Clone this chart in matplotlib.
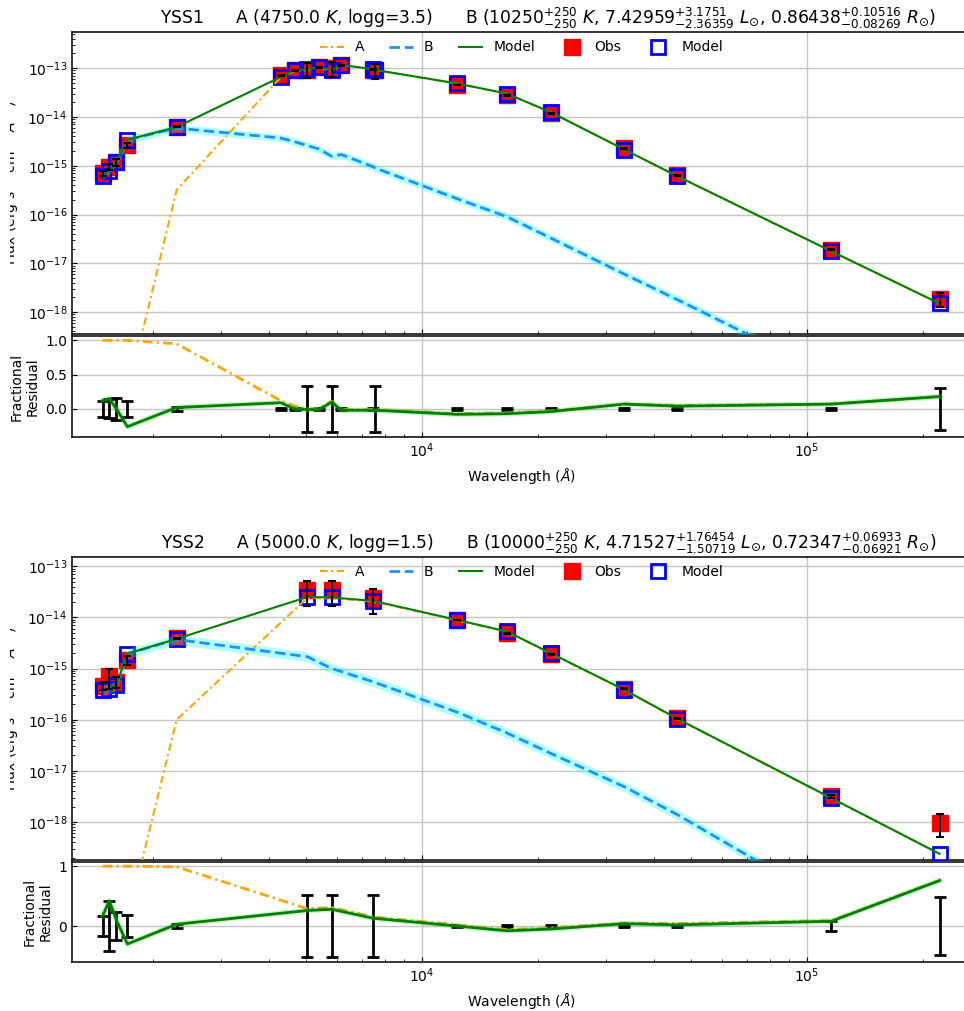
import numpy as np
import matplotlib
matplotlib.use('Agg')
import matplotlib.pyplot as plt
from matplotlib.patches import Rectangle

plt.rcParams['lines.scale_dashes'] = False
plt.rcParams['axes.linewidth'] = 1.1

# ---------------- YSS1 ----------------
# filter wavelengths (Angstrom)
wl_1 = [1481, 1541, 1608, 1717, 2305, 4297, 4670, 5036, 5394, 5836, 6166,
        7470, 7560, 12350, 16620, 21590, 33526, 46028, 115608, 220883]
# observed flux and fractional error
obs_1 = [7.1e-16, 9.3e-16, 1.2e-15, 2.6e-15, 6.3e-15, 7.2e-14, 9.1e-14, 9.3e-14,
         1.05e-13, 1.0e-13, 1.15e-13, 9.3e-14, 9.0e-14, 4.5e-14, 2.8e-14,
         1.2e-14, 2.3e-15, 6.4e-16, 1.9e-17, 1.85e-18]
ferr_1 = [0.12, 0.14, 0.16, 0.12, 0.025, 0.02, 0.02, 0.34, 0.02, 0.34, 0.02,
          0.02, 0.34, 0.02, 0.02, 0.02, 0.02, 0.02, 0.02, 0.31]
# model fluxes (total, component A, component B with its band)
model_1 = [6.25e-16, 7.9e-16, 1.2e-15, 3.4e-15, 6.2e-15, 6.6e-14, 9.1e-14, 9.4e-14,
           1.06e-13, 9.0e-14, 1.17e-13, 9.5e-14, 9.2e-14, 4.85e-14, 3.0e-14,
           1.25e-14, 2.15e-15, 6.1e-16, 1.77e-17, 1.5e-18]
a_1 = [1e-24, 1e-23, 1e-22, 2e-20, 3.2e-16, 6.5e-14, 8.7e-14, 9.2e-14, 1.04e-13,
       8.8e-14, 1.15e-13, 9.4e-14, 9.1e-14, 4.8e-14, 3.0e-14, 1.25e-14, 2.15e-15,
       6.1e-16, 1.77e-17, 1.5e-18]
b_1 = [6.2e-16, 7.9e-16, 1.2e-15, 3.4e-15, 5.9e-15, 3.7e-15, 3.1e-15, 2.6e-15,
       2.2e-15, 1.55e-15, 1.7e-15, 9.5e-16, 9.0e-16, 2.1e-16, 9.0e-17, 3.3e-17,
       6.0e-18, 1.8e-18, 5.0e-20, 2.0e-21]
b_lo_1 = [5.2e-16, 6.6e-16, 1.0e-15, 2.8e-15, 4.9e-15, 3.1e-15, 2.6e-15, 2.2e-15,
          1.8e-15, 1.3e-15, 1.4e-15, 7.9e-16, 7.5e-16, 1.75e-16, 7.5e-17, 2.75e-17,
          5.0e-18, 1.5e-18, 4.2e-20, 1.7e-21]
b_hi_1 = [7.4e-16, 9.5e-16, 1.45e-15, 4.1e-15, 7.1e-15, 4.4e-15, 3.7e-15, 3.1e-15,
          2.6e-15, 1.85e-15, 2.0e-15, 1.15e-15, 1.1e-15, 2.5e-16, 1.1e-16, 4.0e-17,
          7.2e-18, 2.2e-18, 6.0e-20, 2.4e-21]
# fractional residuals of the total model and of component A
res_1 = [0.12, 0.15, 0.0, -0.26, 0.02, 0.09, 0.0, -0.01, -0.01, 0.10, -0.02,
         -0.02, -0.02, -0.08, -0.07, -0.04, 0.07, 0.04, 0.07, 0.18]
res_a_1 = [1.0, 1.0, 1.0, 1.0, 0.95, 0.12, 0.04, 0.0, 0.0, 0.11, -0.01,
           -0.01, -0.01, -0.07, -0.06, -0.03, 0.07, 0.05, 0.07, 0.18]
title_1 = (r"YSS1      A (4750.0 $K$, logg=3.5)      "
           r"B (10250$^{+250}_{-250}$ $K$, 7.42959$^{+3.1751}_{-2.36359}$ $L_{\odot}$, "
           r"0.86438$^{+0.10516}_{-0.08269}$ $R_{\odot}$)")

# ---------------- YSS2 ----------------
wl_2 = [1481, 1541, 1608, 1717, 2305, 5036, 5836, 7470, 12350, 16620, 21590,
        33526, 46028, 115608, 220883]
obs_2 = [4.6e-16, 7.0e-16, 5.5e-16, 1.45e-15, 3.9e-15, 3.4e-14, 3.4e-14, 2.4e-14,
         8.9e-15, 4.9e-15, 1.9e-15, 4.0e-16, 1.07e-16, 3.2e-18, 9.8e-19]
ferr_2 = [0.17, 0.42, 0.23, 0.19, 0.03, 0.52, 0.52, 0.52, 0.02, 0.02, 0.02,
          0.02, 0.02, 0.08, 0.48]
model_2 = [3.8e-16, 4.0e-16, 4.8e-16, 1.95e-15, 3.8e-15, 2.5e-14, 2.45e-14, 2.1e-14,
           8.9e-15, 5.3e-15, 2.0e-15, 3.85e-16, 1.05e-16, 2.95e-18, 2.4e-19]
a_2 = [1e-24, 1e-23, 1e-22, 1.2e-20, 1.0e-16, 2.4e-14, 2.35e-14, 2.04e-14,
       8.7e-15, 5.2e-15, 1.96e-15, 3.8e-16, 1.03e-16, 2.9e-18, 2.4e-19]
b_2 = [3.8e-16, 4.0e-16, 4.8e-16, 1.95e-15, 3.7e-15, 1.7e-15, 1.0e-15, 5.5e-16,
       1.4e-16, 5.5e-17, 2.2e-17, 4.9e-18, 1.4e-18, 2.5e-20, 1.5e-21]
b_lo_2 = [3.0e-16, 3.2e-16, 3.8e-16, 1.56e-15, 2.96e-15, 1.36e-15, 8.0e-16, 4.4e-16,
          1.12e-16, 4.4e-17, 1.76e-17, 3.9e-18, 1.12e-18, 2.0e-20, 1.2e-21]
b_hi_2 = [4.75e-16, 5.0e-16, 6.0e-16, 2.44e-15, 4.6e-15, 2.1e-15, 1.25e-15, 6.9e-16,
          1.75e-16, 6.9e-17, 2.75e-17, 6.1e-18, 1.75e-18, 3.1e-20, 1.9e-21]
res_2 = [0.17, 0.42, 0.1, -0.3, 0.03, 0.26, 0.28, 0.13, 0.0, -0.08, -0.05,
         0.04, 0.02, 0.08, 0.76]
res_a_2 = [1.0, 1.0, 1.0, 1.0, 0.99, 0.29, 0.31, 0.15, 0.02, -0.06, -0.03,
           0.05, 0.04, 0.09, 0.76]
title_2 = (r"YSS2      A (5000.0 $K$, logg=1.5)      "
           r"B (10000$^{+250}_{-250}$ $K$, 4.71527$^{+1.76454}_{-1.50719}$ $L_{\odot}$, "
           r"0.72347$^{+0.06933}_{-0.06921}$ $R_{\odot}$)")


def plot_sed(ax, axr, wl, obs, ferr, model, fa, fb, b_lo, b_hi, res, res_a,
             title, ylim, rylim, rticks):
    '''
    Draws the SED panel and the fractional residual panel below it.
    '''
    wl = np.array(wl)
    obs = np.array(obs)
    ferr = np.array(ferr)
    err = obs * ferr

    # observed and model photometry
    ax.plot(wl, obs, 's', color='red', ms=11, label='Obs', zorder=3)
    ax.plot(wl, model, 's', mfc='none', mec='blue', mew=2, ms=10,
            label='Model', zorder=4)

    # components and total model
    ax.fill_between(wl, b_lo, b_hi, color='cyan', alpha=0.3, lw=0, zorder=5)
    ax.plot(wl, fa, color='orange', lw=1.5, dashes=(5.5, 2.5, 1.5, 2.5),
            label='A', zorder=6)
    ax.plot(wl, fb, color='dodgerblue', lw=2, dashes=(7.5, 3.5),
            label='B', zorder=6)
    ax.plot(wl, model, color='green', lw=1.5, label='Model', zorder=6)
    ax.errorbar(wl, obs, yerr=err, fmt='none', ecolor='black', elinewidth=1.5,
                capsize=3, capthick=1.5, zorder=7)

    ax.set_xscale('log')
    ax.set_yscale('log')
    ax.set_xlim(1233, 266700)
    ax.set_ylim(ylim)
    ax.set_ylabel(r'Flux (erg s$^{-1}$ cm$^{-2}$ $\AA^{-1}$)')
    ax.grid(True, which='major', color='#c4c4c4', lw=1)
    ax.tick_params(which='both', direction='in', labelbottom=False)
    ax.set_title(title, fontsize=12.3, x=0.53)

    h, l = ax.get_legend_handles_labels()
    order = [l.index('A'), l.index('B'), 4, 0, 1]
    ax.legend([h[i] for i in order], [l[i] for i in order], loc='upper center',
              ncol=5, frameon=False, fontsize=10, borderaxespad=0.2,
              handlelength=1.7, columnspacing=1.8)

    # fractional residuals
    axr.errorbar(wl, np.zeros(len(wl)), yerr=ferr, fmt='none', ecolor='black',
                 elinewidth=2, capsize=4, capthick=2, zorder=3)
    axr.plot(wl, res_a, color='orange', lw=2, dashes=(7, 3, 1.5, 3), zorder=4)
    axr.plot(wl, res, color='limegreen', lw=4, alpha=0.25, zorder=4)
    axr.plot(wl, res, color='green', lw=2, zorder=5)
    axr.set_ylim(rylim)
    axr.set_yticks(rticks)
    axr.set_ylabel('Fractional\nResidual')
    axr.set_xlabel(r'Wavelength ($\AA$)')
    axr.grid(True, which='major', color='#c4c4c4', lw=1)
    axr.tick_params(which='both', direction='in')


fig = plt.figure(figsize=(9.64, 10.11), dpi=100)
ax1 = fig.add_axes([0.0747, 0.6696, 0.9326, 0.2987])
ax1r = fig.add_axes([0.0747, 0.5678, 0.9326, 0.0999], sharex=ax1)
ax2 = fig.add_axes([0.0747, 0.1494, 0.9326, 0.2997])
ax2r = fig.add_axes([0.0747, 0.0485, 0.9326, 0.0989], sharex=ax2)

plot_sed(ax1, ax1r, wl_1, obs_1, ferr_1, model_1, a_1, b_1, b_lo_1, b_hi_1,
         res_1, res_a_1, title_1, (10 ** -18.45, 10 ** -12.26), (-0.41, 1.065),
         [0, 0.5, 1.0])
plot_sed(ax2, ax2r, wl_2, obs_2, ferr_2, model_2, a_2, b_2, b_lo_2, b_hi_2,
         res_2, res_a_2, title_2, (10 ** -18.74, 10 ** -12.82), (-0.6, 1.07),
         [0, 1])

# the original figure is trimmed on its left side
fig.patches.append(Rectangle((0, 0), 10 / 964, 1, transform=fig.transFigure,
                             facecolor='white', edgecolor='none', zorder=10))

fig.savefig('out.png', dpi=100)
